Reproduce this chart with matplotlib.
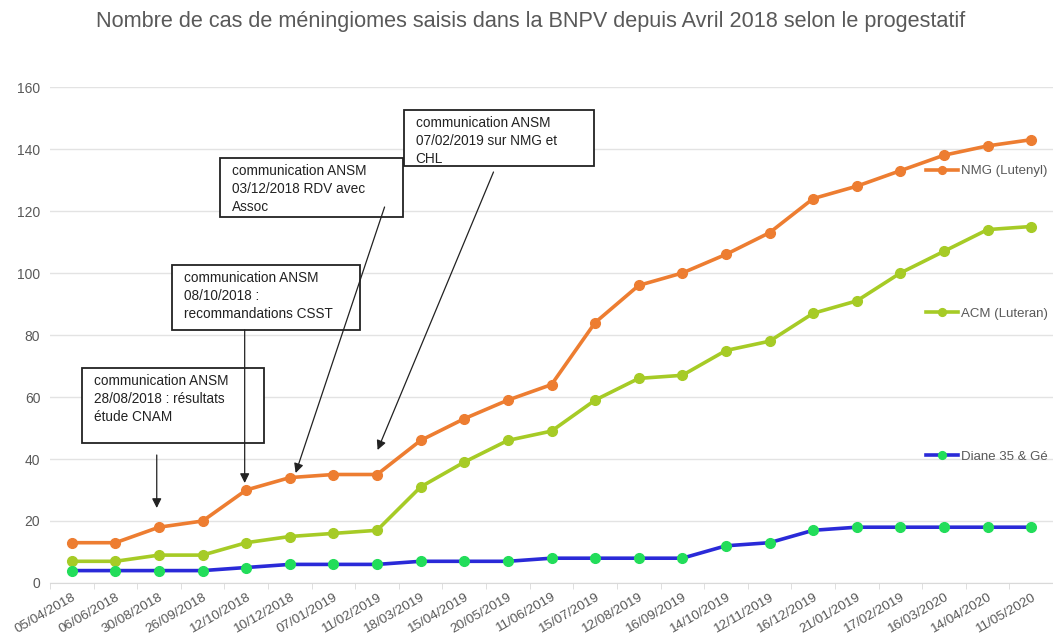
import matplotlib
matplotlib.use("Agg")
import matplotlib.pyplot as plt
from matplotlib.patches import Rectangle
from matplotlib.ticker import FixedLocator

plt.rcParams['font.family'] = ['Liberation Sans', 'DejaVu Sans']

# data
dates = ['05/04/2018', '06/06/2018', '30/08/2018', '26/09/2018', '12/10/2018',
         '10/12/2018', '07/01/2019', '11/02/2019', '18/03/2019', '15/04/2019',
         '20/05/2019', '11/06/2019', '15/07/2019', '12/08/2019', '16/09/2019',
         '14/10/2019', '12/11/2019', '16/12/2019', '21/01/2019', '17/02/2019',
         '16/03/2020', '14/04/2020', '11/05/2020']
nmg = [13, 13, 18, 20, 30, 34, 35, 35, 46, 53, 59, 64, 84, 96, 100, 106, 113,
       124, 128, 133, 138, 141, 143]
acm = [7, 7, 9, 9, 13, 15, 16, 17, 31, 39, 46, 49, 59, 66, 67, 75, 78, 87, 91,
       100, 107, 114, 115]
diane = [4, 4, 4, 4, 5, 6, 6, 6, 7, 7, 7, 8, 8, 8, 8, 12, 13, 17, 18, 18, 18,
         18, 18]
series_names = ['NMG (Lutenyl)', 'ACM (Luteran)', 'Diane 35 & Gé']

notes = [
    "communication ANSM\n28/08/2018 : résultats\nétude CNAM",
    "communication ANSM\n08/10/2018 :\nrecommandations CSST",
    "communication ANSM\n03/12/2018 RDV avec\nAssoc",
    "communication ANSM\n07/02/2019 sur NMG et\nCHL",
]

grey = '#595959'

fig = plt.figure(figsize=(10.53, 6.38), dpi=100)
ax = fig.add_axes([50 / 1053, 1 - 583 / 638, 1003 / 1053, 496 / 638])

x = list(range(len(dates)))
ax.plot(x, nmg, color='#ED7D31', lw=2.6, marker='o', ms=7, label=series_names[0], zorder=4)
ax.plot(x, acm, color='#A6CB26', lw=2.6, marker='o', ms=7, label=series_names[1], zorder=4)
ax.plot(x, diane, color='#2A2AD8', lw=2.6, marker='o', ms=7, mfc='#22DD5A', mec='#22DD5A',
        label=series_names[2], zorder=4)

ax.set_xlim(-0.5, len(dates) - 0.5)
ax.set_ylim(0, 160)
ax.set_yticks(range(0, 161, 20))
ax.yaxis.grid(True, color='#e3e3e3', lw=1)
ax.set_axisbelow(True)
for s in ['top', 'right', 'left']:
    ax.spines[s].set_visible(False)
ax.spines['bottom'].set_color('#d9d9d9')
ax.tick_params(axis='y', length=0, pad=7, labelsize=10, labelcolor=grey)
ax.set_xticks(x)
ax.set_xticklabels(dates, rotation=30, ha='right', rotation_mode='anchor')
ax.tick_params(axis='x', which='major', length=0, pad=6, labelsize=9.7, labelcolor=grey)
ax.xaxis.set_minor_locator(FixedLocator([i - 0.5 for i in range(len(dates) + 1)]))
ax.tick_params(axis='x', which='minor', length=4, color='#d9d9d9')

fig.text(531 / 1053, 1 - 22 / 638,
         "Nombre de cas de méningiomes saisis dans la BNPV depuis Avril 2018 selon le progestatif",
         ha='center', va='center', fontsize=15.6, color=grey)

# series key sits at the right, Excel-style with wide row spacing
ax.legend(loc='upper left', bbox_to_anchor=(926 / 1053, 1 - 165 / 638),
          bbox_transform=fig.transFigure, frameon=False, fontsize=9.5,
          labelcolor=grey, numpoints=1, handlelength=2.4, handletextpad=0.25,
          labelspacing=9.9, markerscale=0.8, borderaxespad=0, borderpad=0)

# annotation boxes and arrows, laid out in pixels then mapped to data units
def px_to_data(px, py):
    return (px - 72) / 43.64, (583 - py) / 3.1

boxes = [(82, 368, 264, 443), (172, 265, 360, 330), (220, 158, 403, 217), (404, 110, 595, 166)]
arrows = [((157, 455), (157, 508)), ((245, 330), (245, 483)),
          ((385, 207), (296, 473)), ((494, 172), (378, 450))]

for txt, (x0, y0, x1, y1), (start, tip) in zip(notes, boxes, arrows):
    dx0, dy0 = px_to_data(x0, y1)
    dx1, dy1 = px_to_data(x1, y0)
    ax.add_patch(Rectangle((dx0, dy0), dx1 - dx0, dy1 - dy0, facecolor='white',
                           edgecolor='#222222', lw=1.3, zorder=5, clip_on=False))
    tx, ty = px_to_data(x0 + 12, y0 + 6)
    ax.text(tx, ty, txt, ha='left', va='top', fontsize=9.8, color='#222222',
            linespacing=1.38, zorder=6)
    ax.annotate('', xy=px_to_data(*tip), xytext=px_to_data(*start),
                arrowprops=dict(arrowstyle='-|>', color='#222222', lw=0.9,
                                mutation_scale=14, shrinkA=0, shrinkB=0), zorder=6)

fig.savefig('out.png', dpi=100)
